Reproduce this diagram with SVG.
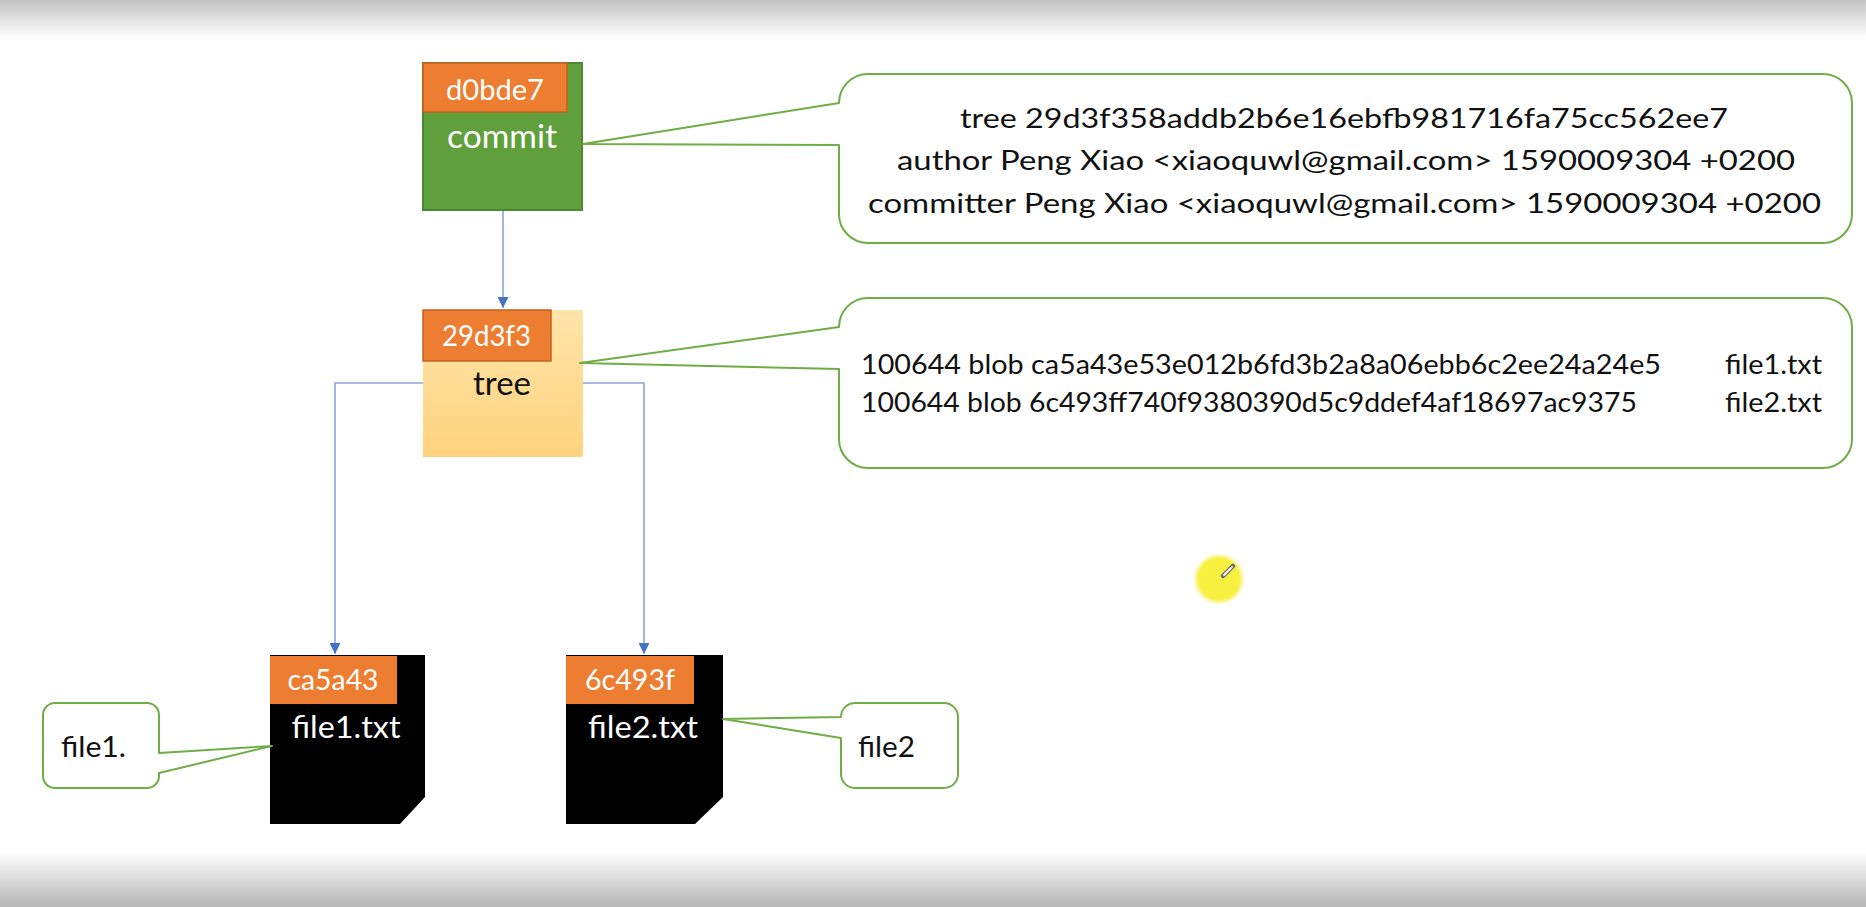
<svg xmlns="http://www.w3.org/2000/svg" width="1866" height="907" viewBox="0 0 1866 907">
<defs>
<style>
.t { font-family: Lato, "Liberation Sans", sans-serif; }
.w { fill: #ffffff; }
.k { fill: #111111; }
.lbl { fill: #ED7D31; stroke: #C5601F; stroke-width: 1.5; }
.callout { fill: #ffffff; stroke: #70AD47; stroke-width: 2; stroke-linejoin: round; }
.conn { fill: none; stroke: #86A5DA; stroke-width: 1.6; }
</style>
<linearGradient id="topShade" x1="0" y1="0" x2="0" y2="1"><stop offset="0" stop-color="#c3c3c3"/><stop offset="1" stop-color="#ffffff"/></linearGradient>
<linearGradient id="botShade" x1="0" y1="0" x2="0" y2="1"><stop offset="0" stop-color="#ffffff"/><stop offset="1" stop-color="#b5b5b5"/></linearGradient>
<linearGradient id="treeFill" x1="0" y1="0" x2="0" y2="1"><stop offset="0" stop-color="#FFE4AA"/><stop offset="1" stop-color="#FFD37E"/></linearGradient>
<radialGradient id="cursorGlow"><stop offset="0.78" stop-color="#F7F03E"/><stop offset="1" stop-color="#F7F03E" stop-opacity="0"/></radialGradient>
<marker id="arrow" viewBox="0 0 10 10" refX="10" refY="5" markerWidth="11" markerHeight="11" markerUnits="userSpaceOnUse" orient="auto"><path d="M0,0 L10,5 L0,10 z" fill="#4472C4"/></marker>
</defs>
<rect x="0" y="0" width="1866" height="907" fill="#ffffff"/>
<rect x="0" y="0" width="1866" height="38" fill="url(#topShade)"/>
<rect x="0" y="852" width="1866" height="55" fill="url(#botShade)"/>

<g id="connectors">
<path class="conn" d="M503,210 V308" marker-end="url(#arrow)"/>
<path class="conn" d="M423,383 H335 V654" marker-end="url(#arrow)"/>
<path class="conn" d="M583,383 H644 V654" marker-end="url(#arrow)"/>
</g>

<g id="commit">
<rect x="423" y="63" width="159" height="147" fill="#5FA03D" stroke="#4E8731" stroke-width="2"/>
<rect class="lbl" x="423" y="63" width="144" height="49"/>
<text class="t w" x="495" y="100" font-size="29" text-anchor="middle" textLength="98" lengthAdjust="spacingAndGlyphs">d0bde7</text>
<text class="t w" x="502" y="148" font-size="32" text-anchor="middle" textLength="110" lengthAdjust="spacingAndGlyphs">commit</text>
</g>

<g id="tree">
<rect x="423" y="310" width="160" height="147" fill="url(#treeFill)"/>
<rect class="lbl" x="423" y="310" width="128" height="51"/>
<text class="t w" x="486.5" y="346" font-size="29" text-anchor="middle" textLength="89" lengthAdjust="spacingAndGlyphs">29d3f3</text>
<text class="t k" x="502" y="395" font-size="32" text-anchor="middle" textLength="58" lengthAdjust="spacingAndGlyphs">tree</text>
</g>

<g id="blob1">
<path d="M270,655 H425 V797 L400,824 H270 Z" fill="#000000"/>
<rect x="270" y="656" width="127" height="48" fill="#ED7D31"/>
<text class="t w" x="333" y="690" font-size="28" text-anchor="middle" textLength="91" lengthAdjust="spacingAndGlyphs">ca5a43</text>
<text class="t w" x="346" y="738" font-size="31" text-anchor="middle" textLength="109" lengthAdjust="spacingAndGlyphs">file1.txt</text>
</g>

<g id="blob2">
<path d="M566,655 H723 V797 L695,824 H566 Z" fill="#000000"/>
<rect x="566" y="656" width="128" height="48" fill="#ED7D31"/>
<text class="t w" x="630" y="690" font-size="28" text-anchor="middle" textLength="90" lengthAdjust="spacingAndGlyphs">6c493f</text>
<text class="t w" x="643" y="738" font-size="31" text-anchor="middle" textLength="110" lengthAdjust="spacingAndGlyphs">file2.txt</text>
</g>

<g id="commit-callout">
<path class="callout" d="M868,74 H1823 A29,29 0 0 1 1852,103 V214 A29,29 0 0 1 1823,243 H868 A29,29 0 0 1 839,214 V145 L583,144 L839,103 A29,29 0 0 1 868,74 Z"/>
<text class="t k" x="1344" y="128" font-size="27" text-anchor="middle" textLength="768" lengthAdjust="spacingAndGlyphs">tree 29d3f358addb2b6e16ebfb981716fa75cc562ee7</text>
<text class="t k" x="1346" y="170" font-size="27" text-anchor="middle" textLength="898" lengthAdjust="spacingAndGlyphs">author Peng Xiao &lt;xiaoquwl@gmail.com&gt; 1590009304 +0200</text>
<text class="t k" x="1344.5" y="213" font-size="27" text-anchor="middle" textLength="953" lengthAdjust="spacingAndGlyphs">committer Peng Xiao &lt;xiaoquwl@gmail.com&gt; 1590009304 +0200</text>
</g>

<g id="tree-callout">
<path class="callout" d="M868,298 H1823 A29,29 0 0 1 1852,327 V439 A29,29 0 0 1 1823,468 H868 A29,29 0 0 1 839,439 V369 L580,363 L839,327 A29,29 0 0 1 868,298 Z"/>
<text class="t k" x="861" y="374" font-size="27" textLength="800" lengthAdjust="spacingAndGlyphs">100644 blob ca5a43e53e012b6fd3b2a8a06ebb6c2ee24a24e5</text>
<text class="t k" x="1725" y="374" font-size="27" textLength="97" lengthAdjust="spacingAndGlyphs">file1.txt</text>
<text class="t k" x="861" y="412" font-size="27" textLength="776" lengthAdjust="spacingAndGlyphs">100644 blob 6c493ff740f9380390d5c9ddef4af18697ac9375</text>
<text class="t k" x="1725" y="412" font-size="27" textLength="97" lengthAdjust="spacingAndGlyphs">file2.txt</text>
</g>

<g id="file1-callout">
<path class="callout" d="M55,703 H147 A12,12 0 0 1 159,715 V753 L272,746 L159,773 V776 A12,12 0 0 1 147,788 H55 A12,12 0 0 1 43,776 V715 A12,12 0 0 1 55,703 Z"/>
<text class="t k" x="61" y="757" font-size="29" textLength="65" lengthAdjust="spacingAndGlyphs">file1.</text>
</g>

<g id="file2-callout">
<path class="callout" d="M855,703 H944 A14,14 0 0 1 958,717 V774 A14,14 0 0 1 944,788 H855 A14,14 0 0 1 841,774 V738 L723,719 L841,717 A14,14 0 0 1 855,703 Z"/>
<text class="t k" x="858" y="757" font-size="29" textLength="57" lengthAdjust="spacingAndGlyphs">file2</text>
</g>

<g id="cursor">
<circle cx="1219" cy="579" r="26" fill="url(#cursorGlow)"/>
<line x1="1223" y1="576" x2="1233" y2="566" stroke="#6b6b6b" stroke-width="4.5" stroke-linecap="round"/>
<line x1="1224" y1="575" x2="1232" y2="567" stroke="#ffffff" stroke-width="1.8" stroke-linecap="round"/>
</g>
</svg>
